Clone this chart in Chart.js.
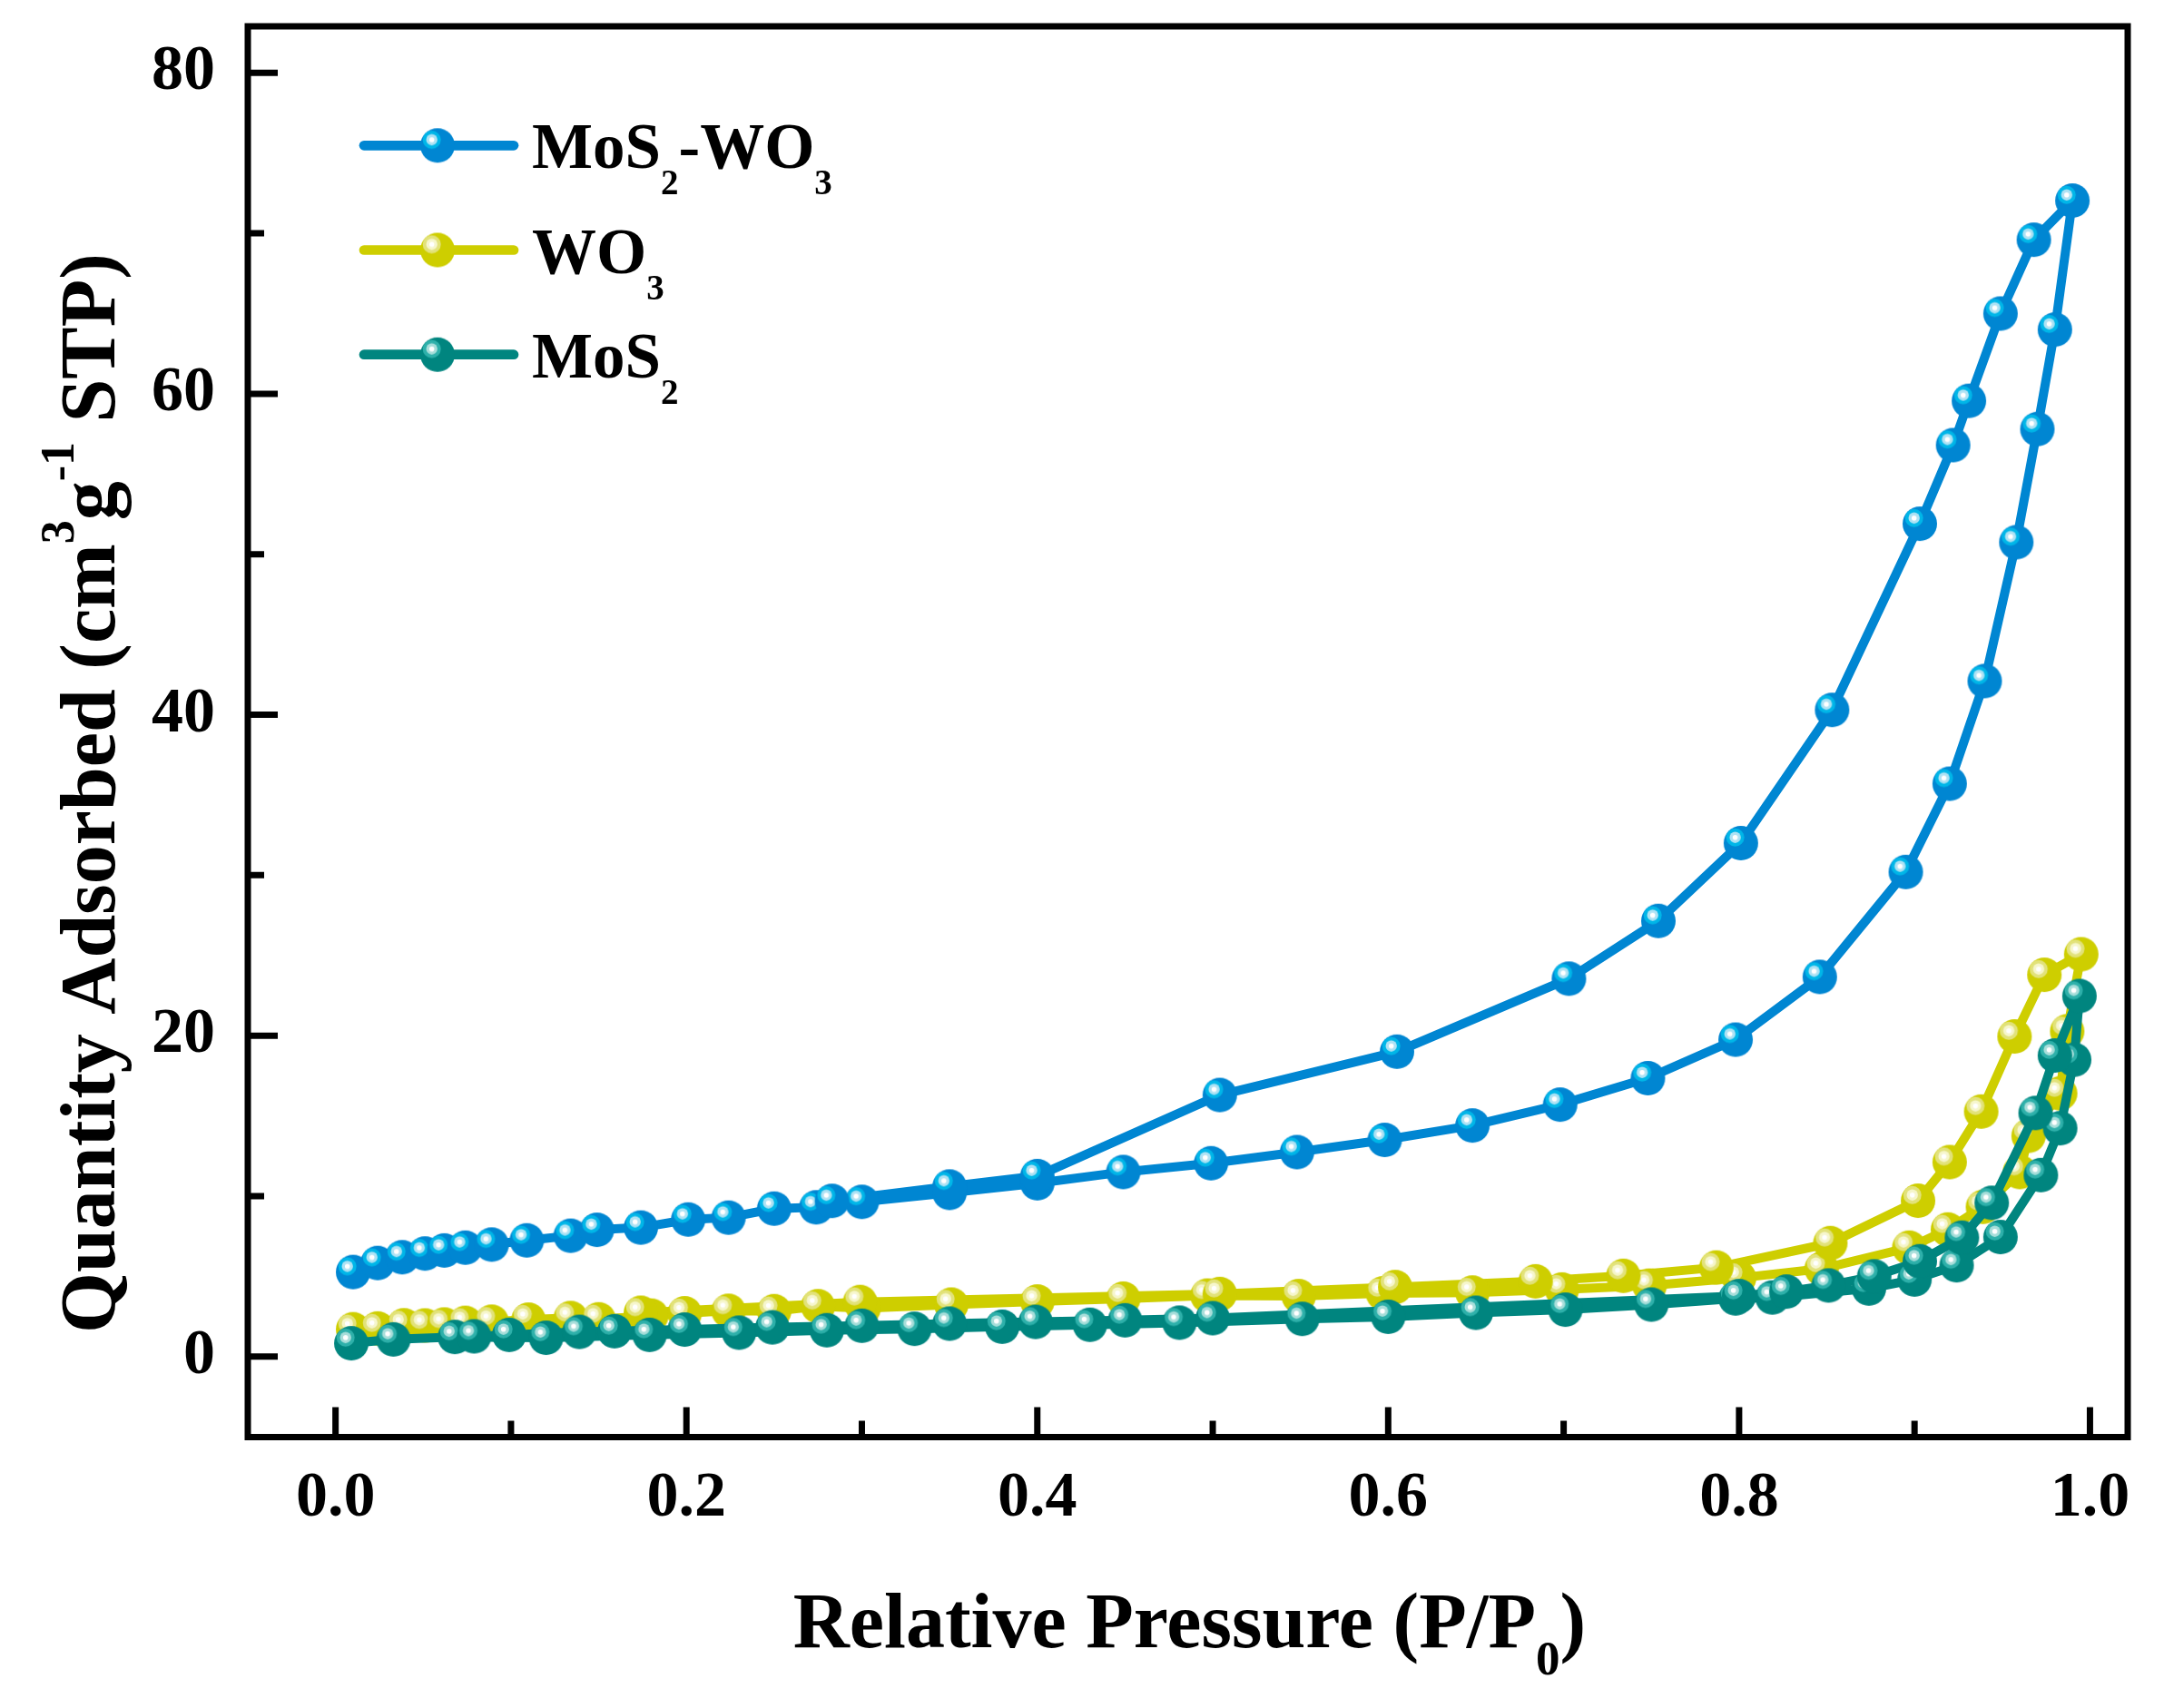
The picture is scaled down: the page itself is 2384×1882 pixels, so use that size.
<!DOCTYPE html>
<html><head><meta charset="utf-8">
<script src="https://cdn.jsdelivr.net/npm/chart.js@4.4.0/dist/chart.umd.min.js"></script>
<style>html,body{margin:0;padding:0;background:#fff;}canvas{display:block;}</style>
</head><body>
<div style="width:2384px;height:1882px;"><canvas id="c" width="2384" height="1882"></canvas></div>
<script>
// ---------- data ----------
const seriesNames = ['MoS2-WO3', 'WO3', 'MoS2'];

const mos2wo3AdsX = [0.010,0.024,0.038,0.051,0.062,0.074,0.089,0.109,0.134,0.149,0.174,0.201,0.224,0.250,0.274,0.300,0.350,0.400,0.449,0.499,0.548,0.598,0.648,0.698,0.748,0.798,0.846,0.895,0.920,0.940,0.958,0.970,0.980,0.990];
const mos2wo3AdsY = [5.27,5.83,6.19,6.42,6.61,6.79,6.98,7.24,7.53,7.90,8.04,8.54,8.66,9.22,9.30,9.64,10.2,10.8,11.5,12.05,12.74,13.5,14.4,15.7,17.35,19.75,23.66,30.2,35.7,42.1,50.75,57.8,64.0,72.04];
const mos2wo3DesX = [0.968,0.949,0.931,0.922,0.903,0.853,0.801,0.754,0.703,0.605,0.504,0.400,0.350,0.283];
const mos2wo3DesY = [69.6,65.0,59.56,56.8,51.9,40.3,32.0,27.15,23.55,19.0,16.3,11.25,10.6,9.7];

const wo3AdsX = [0.010,0.024,0.039,0.051,0.062,0.074,0.089,0.110,0.134,0.150,0.180,0.199,0.224,0.250,0.275,0.301,0.351,0.400,0.449,0.497,0.549,0.597,0.648,0.699,0.749,0.800,0.847,0.897,0.919,0.939,0.960,0.965,0.983,0.987,0.995];
const wo3AdsY = [1.70,1.75,1.95,1.94,2.00,2.10,2.17,2.30,2.40,2.32,2.55,2.70,2.85,2.83,3.14,3.01,3.24,3.43,3.61,3.80,3.77,3.94,3.99,4.18,4.42,4.90,5.47,6.79,7.92,9.33,11.5,13.76,16.4,20.27,25.07];
const wo3DesX = [0.974,0.957,0.938,0.920,0.902,0.852,0.787,0.734,0.684,0.604,0.504,0.299,0.174];
const wo3DesY = [23.79,19.95,15.27,12.12,9.71,7.07,5.55,5.03,4.69,4.33,3.90,3.40,2.73];

const mos2AdsX = [0.009,0.033,0.068,0.120,0.179,0.230,0.280,0.330,0.380,0.430,0.481,0.551,0.600,0.650,0.701,0.750,0.798,0.819,0.874,0.900,0.924,0.949,0.972,0.983,0.991,0.994];
const mos2AdsY = [0.83,1.07,1.22,1.17,1.35,1.49,1.64,1.73,1.86,1.98,2.11,2.35,2.48,2.73,2.92,3.24,3.62,3.68,4.24,4.80,5.69,7.45,11.31,14.23,18.5,22.47];
const mos2DesX = [0.980,0.969,0.944,0.927,0.903,0.877,0.851,0.827,0.800,0.500,0.450,0.399,0.350,0.300,0.249,0.199,0.159,0.139,0.099,0.079];
const mos2DesY = [18.76,15.18,9.58,7.41,5.94,5.00,4.43,4.05,3.77,2.39,2.26,2.16,2.05,1.92,1.82,1.68,1.58,1.54,1.35,1.26];

const xTickValues = [0, 0.2, 0.4, 0.6, 0.8, 1.0];
const xTickLabels = ['0.0', '0.2', '0.4', '0.6', '0.8', '1.0'];
const xMinorTicks = [0.1, 0.3, 0.5, 0.7, 0.9];
const yTickValues = [0, 20, 40, 60, 80];
const yTickLabels = ['0', '20', '40', '60', '80'];
const yMinorTicks = [10, 30, 50, 70];

const xTitleParts = [['Relative Pressure (P/P', ''], ['0', 'sub'], [')', '']];
const yTitleParts = [['Quantity Adsorbed (cm', ''], ['3', 'sup'], ['g', ''], ['-1', 'sup'], [' STP)', '']];
const legendParts = [
  [['MoS', ''], ['2', 'sub'], ['-WO', ''], ['3', 'sub']],
  [['WO', ''], ['3', 'sub']],
  [['MoS', ''], ['2', 'sub']]
];

// ---------- styling ----------
const FONT = 'Liberation Serif';
const colors = [
  {base: '#0086D2', ring: '#00B6E8', pale: '#AEE2F4'},
  {base: '#CECE00', ring: '#E2E27A', pale: '#F6F6CC'},
  {base: '#00857F', ring: '#2EB0AA', pale: '#A8DEDA'}
];

function makeBall(c) {
  const r = 19, s = 42;
  const cv = document.createElement('canvas');
  cv.width = s; cv.height = s;
  const g = cv.getContext('2d');
  const cx = s / 2, cy = s / 2;
  g.fillStyle = c.base;
  g.beginPath(); g.arc(cx, cy, r, 0, 2 * Math.PI); g.fill();
  const hx = cx - 6.3, hy = cy - 6.3;
  g.fillStyle = c.ring;
  g.beginPath(); g.arc(hx, hy, 10, 0, 2 * Math.PI); g.fill();
  g.fillStyle = c.pale;
  g.beginPath(); g.arc(hx, hy, 6.2, 0, 2 * Math.PI); g.fill();
  g.fillStyle = '#ffffff';
  g.beginPath(); g.arc(hx, hy, 2.8, 0, 2 * Math.PI); g.fill();
  return cv;
}
const balls = colors.map(makeBall);

function pts(xs, ys) { return xs.map((x, i) => ({x: x, y: ys[i]})); }

const datasets = [
  {label: seriesNames[0], data: pts(mos2wo3AdsX.concat(mos2wo3DesX), mos2wo3AdsY.concat(mos2wo3DesY)), order: 2},
  {label: seriesNames[1], data: pts(wo3AdsX.concat(wo3DesX), wo3AdsY.concat(wo3DesY)), order: 1},
  {label: seriesNames[2], data: pts(mos2AdsX.concat(mos2DesX), mos2AdsY.concat(mos2DesY)), order: 0}
].map((d, i) => Object.assign(d, {
  borderColor: colors[i].base,
  backgroundColor: colors[i].base,
  borderWidth: 10,
  borderCapStyle: 'round',
  borderJoinStyle: 'round',
  tension: 0,
  fill: false,
  pointStyle: balls[i],
  pointRadius: 19,
  showLine: true
}));

function drawRich(ctx, parts, x, y, size, subSize, subDrop, supRise, align) {
  let total = 0;
  parts.forEach(p => {
    ctx.font = 'bold ' + (p[1] ? subSize : size) + 'px "' + FONT + '"';
    total += ctx.measureText(p[0]).width;
  });
  let cx = align === 'center' ? x - total / 2 : x;
  ctx.textBaseline = 'alphabetic';
  ctx.textAlign = 'left';
  parts.forEach(p => {
    ctx.font = 'bold ' + (p[1] ? subSize : size) + 'px "' + FONT + '"';
    let yy = y;
    if (p[1] === 'sub') yy = y + subDrop;
    if (p[1] === 'sup') yy = y - supRise;
    ctx.fillText(p[0], cx, yy);
    cx += ctx.measureText(p[0]).width;
  });
}

const framePlugin = {
  id: 'frame',
  afterDraw(chart) {
    const ctx = chart.ctx;
    const a = chart.chartArea;
    const xs = chart.scales.x, ys = chart.scales.y;
    ctx.save();
    ctx.strokeStyle = '#000';
    ctx.lineWidth = 7;
    ctx.lineCap = 'butt';
    ctx.lineJoin = 'miter';
    ctx.strokeRect(a.left, a.top, a.right - a.left, a.bottom - a.top);
    ctx.beginPath();
    xTickValues.forEach(v => { const p = xs.getPixelForValue(v); ctx.moveTo(p, a.bottom); ctx.lineTo(p, a.bottom - 33); });
    xMinorTicks.forEach(v => { const p = xs.getPixelForValue(v); ctx.moveTo(p, a.bottom); ctx.lineTo(p, a.bottom - 18); });
    yTickValues.forEach(v => { const p = ys.getPixelForValue(v); ctx.moveTo(a.left, p); ctx.lineTo(a.left + 33, p); });
    yMinorTicks.forEach(v => { const p = ys.getPixelForValue(v); ctx.moveTo(a.left, p); ctx.lineTo(a.left + 18, p); });
    ctx.stroke();

    ctx.fillStyle = '#000';
    drawRich(ctx, xTitleParts, (a.left + a.right) / 2 + 2, 1815, 86, 53, 30, 0, 'center');
    ctx.save();
    ctx.translate(126, 874);
    ctx.rotate(-Math.PI / 2);
    drawRich(ctx, yTitleParts, 0, 0, 86, 52, 0, 45, 'center');
    ctx.restore();

    for (let i = 0; i < 3; i++) {
      const ry = 160.3 + i * 115.2;
      ctx.strokeStyle = colors[i].base;
      ctx.lineWidth = 10.7;
      ctx.lineCap = 'round';
      ctx.beginPath(); ctx.moveTo(401, ry); ctx.lineTo(566, ry); ctx.stroke();
      ctx.drawImage(balls[i], 482 - 21, ry - 21, 42, 42);
      ctx.fillStyle = '#000';
      drawRich(ctx, legendParts[i], 586, ry + 25, 71, 39, 29, 0, 'left');
    }
    ctx.restore();
  }
};

const tickFont = {family: FONT, weight: 'bold', size: 70};
function zeroPad(s) { s.paddingTop = 0; s.paddingBottom = 0; s.paddingLeft = 0; s.paddingRight = 0; }

new Chart(document.getElementById('c'), {
  type: 'scatter',
  data: {datasets: datasets},
  options: {
    responsive: false,
    devicePixelRatio: 1,
    animation: false,
    events: [],
    layout: {padding: {left: 0, right: 40, top: 27, bottom: 0}},
    plugins: {legend: {display: false}, tooltip: {enabled: false}},
    scales: {
      x: {
        type: 'linear', min: -0.05, max: 1.0215,
        afterBuildTicks: s => { s.ticks = xTickValues.map(v => ({value: v})); },
        afterFit: s => { s.height = 298.5; zeroPad(s); },
        ticks: {callback: (v, i) => xTickLabels[i], font: tickFont, color: '#000', padding: 26, maxRotation: 0, autoSkip: false},
        grid: {display: false, drawTicks: false},
        border: {display: false}
      },
      y: {
        type: 'linear', min: -5.02, max: 82.9,
        afterBuildTicks: s => { s.ticks = yTickValues.map(v => ({value: v})); },
        afterFit: s => { s.width = 273; zeroPad(s); },
        ticks: {callback: (v, i) => yTickLabels[i], font: tickFont, color: '#000', padding: 36, autoSkip: false},
        grid: {display: false, drawTicks: false},
        border: {display: false}
      }
    }
  },
  plugins: [framePlugin]
});
</script>
</body></html>
